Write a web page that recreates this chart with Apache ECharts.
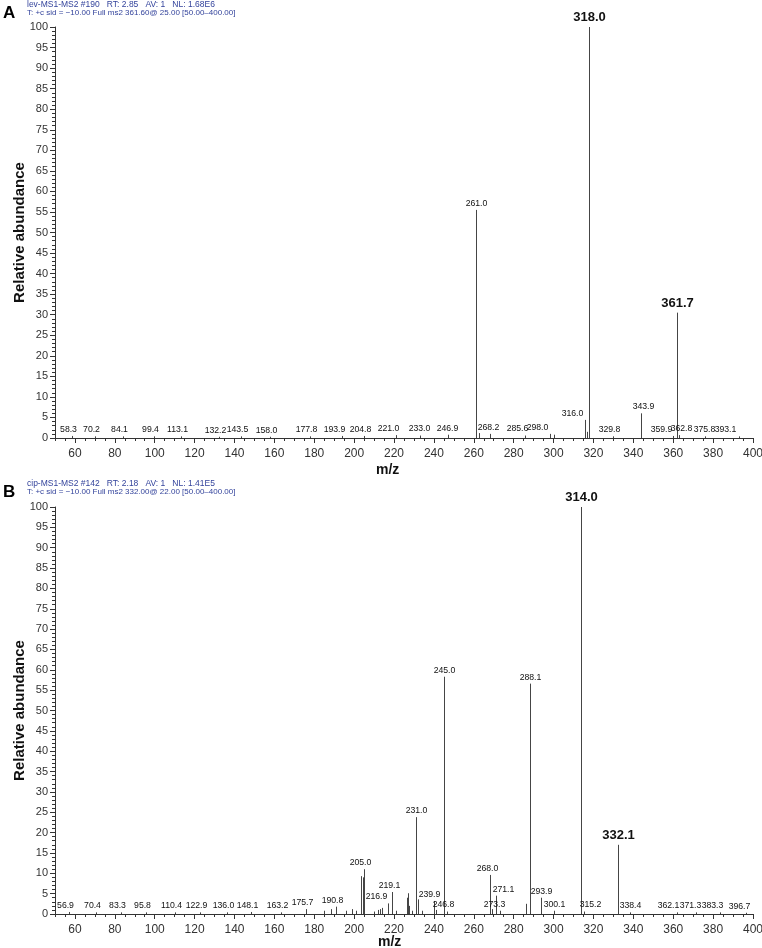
<!DOCTYPE html>
<html>
<head>
<meta charset="utf-8">
<script src="https://cdn.jsdelivr.net/npm/echarts@6/dist/echarts.min.js"></script>
<style>
html,body{margin:0;padding:0;background:#fff}
#chart{width:762px;height:948px}
</style>
</head>
<body>
<div id="chart"></div>
<script>
// tick labels of the m/z axis
var xTicks = [60, 80, 100, 120, 140, 160, 180, 200, 220, 240, 260, 280, 300, 320, 340, 360, 380, 400];

// panel A (levofloxacin) : [m/z, relative abundance]
var peaksA = [
    [58.3, 0.5], [70.2, 0.4], [84.1, 0.4], [99.4, 0.4], [113.1, 0.4], [132.2, 0.3],
    [143.5, 0.4], [158.0, 0.3], [177.8, 0.4], [193.9, 0.5], [204.8, 0.5], [221.0, 0.7],
    [233.0, 0.6], [246.9, 0.8], [261.0, 55.5], [262.4, 1.2], [268.2, 1.0], [285.6, 0.6],
    [298.0, 1.0], [300.3, 0.8], [316.0, 4.4], [317.0, 1.5], [318.0, 100], [329.8, 0.4],
    [343.9, 6.0], [359.9, 0.5], [361.7, 30.5], [362.8, 0.7], [375.8, 0.4], [393.1, 0.4]
];
var labelsA = [58.3, 70.2, 84.1, 99.4, 113.1, 132.2, 143.5, 158.0, 177.8, 193.9, 204.8, 221.0,
    233.0, 246.9, 261.0, 268.2, 285.6, 298.0, 316.0, 318.0, 329.8, 343.9, 359.9, 361.7,
    362.8, 375.8, 393.1];
var boldA = [318.0, 361.7];

// panel B (ciprofloxacin)
var peaksB = [
    [56.9, 0.5], [70.4, 0.4], [83.3, 0.4], [95.8, 0.4], [110.4, 0.4], [122.9, 0.4],
    [136.0, 0.4], [148.1, 0.5], [163.2, 0.4], [175.7, 1.2], [185.0, 0.8], [188.2, 1.2],
    [190.8, 1.8], [196.0, 0.8], [199.1, 1.2], [201.0, 0.8], [203.2, 9.3], [204.2, 9.0],
    [205.0, 11.0], [210.0, 0.6], [212.0, 1.0], [213.0, 1.2], [214.0, 1.5], [216.9, 2.6],
    [219.1, 5.4], [221.0, 0.8], [226.3, 4.0], [226.8, 5.1], [227.6, 2.0], [229.0, 0.8],
    [231.0, 23.8], [232.0, 3.6], [234.0, 0.8], [239.9, 3.2], [241.0, 1.0], [245.0, 58.3],
    [246.8, 0.6], [268.0, 9.6], [269.2, 1.2], [271.1, 4.5], [273.3, 0.8], [286.0, 2.5],
    [288.1, 56.6], [293.9, 4.0], [300.1, 0.8], [314.0, 100], [315.2, 0.6], [332.1, 17.0],
    [338.4, 0.4], [362.1, 0.4], [371.3, 0.4], [383.3, 0.4], [396.7, 0.3]
];
var labelsB = [56.9, 70.4, 83.3, 95.8, 110.4, 122.9, 136.0, 148.1, 163.2, 175.7, 190.8, 205.0,
    216.9, 219.1, 231.0, 239.9, 245.0, 246.8, 268.0, 271.1, 273.3, 288.1, 293.9, 300.1,
    314.0, 315.2, 332.1, 338.4, 362.1, 371.3, 383.3, 396.7];
var boldB = [314.0, 332.1];

var FONT = '"Liberation Sans", Arial, sans-serif';

// 标注左右微调(像素), 避免重叠
var nudgeA = {'359.9': -8, '362.8': 6, '375.8': 3, '393.1': -10, '285.6': -4, '298.0': -9,
    '268.2': 2, '246.9': 3, '233.0': 3, '221.0': -4, '193.9': -4, '316.0': -13, '343.9': 2};
var nudgeB = {'216.9': -12, '239.9': -5, '315.2': 10, '362.1': -5, '371.3': -2, '383.3': -4,
    '396.7': -3, '273.3': -2, '300.1': 4, '338.4': 4, '271.1': 7, '268.0': -3, '205.0': -4,
    '219.1': -3};

function buildData(peaks, labels, bolds) {
    return peaks.map(function (p) {
        return [p[0], p[1], labels.indexOf(p[0]) >= 0 ? 1 : 0, bolds.indexOf(p[0]) >= 0 ? 1 : 0];
    });
}

//一根谱线 + 标注
function makeRender(nudge) {
    return function (params, api) {
        var mz = api.value(0);
        var base = api.coord([mz, 0]);
        var top = api.coord([mz, api.value(1)]);
        var x = Math.round(base[0]) + 0.5;
        var children = [{
            type: 'line',
            shape: {x1: x, y1: base[1], x2: x, y2: top[1]},
            style: {stroke: '#454545', lineWidth: 1}
        }];
        if (api.value(2)) {
            var bold = api.value(3);
            var txt = mz.toFixed(1);
            var dx = nudge[txt] || 0;
            if (!bold && api.value(1) < 2) dx -= 4;
            children.push({
                type: 'text',
                style: {
                    text: txt,
                    x: x + dx,
                    y: top[1] - (bold ? 3 : 2),
                    align: 'center',
                    verticalAlign: 'bottom',
                    font: (bold ? 'bold 13px ' : '8.7px ') + FONT,
                    fill: '#111'
                }
            });
        }
        return {type: 'group', children: children};
    };
}

function majorX(g) {
    return {
        type: 'value', gridIndex: g, position: 'bottom', min: 50, max: 400,
        axisLine: {lineStyle: {color: '#333'}},
        axisTick: {customValues: xTicks, length: 5, lineStyle: {color: '#333'}},
        axisLabel: {customValues: xTicks, fontSize: 12, color: '#333', margin: 10, fontFamily: FONT},
        splitLine: {show: false}
    };
}
function minorX(g) {
    return {
        type: 'value', gridIndex: g, position: 'bottom', min: 50, max: 400, interval: 5,
        axisLine: {show: false},
        axisTick: {length: 3, lineStyle: {color: '#333'}},
        axisLabel: {show: false},
        splitLine: {show: false}
    };
}
function yAxis(g) {
    return {
        type: 'value', gridIndex: g, min: 0, max: 100, interval: 5,
        name: 'Relative abundance', nameLocation: 'middle', nameGap: 28, nameMoveOverlap: false,
        nameTextStyle: {fontSize: 15, fontWeight: 'bold', color: '#111', fontFamily: FONT},
        axisLine: {show: true, lineStyle: {color: '#333'}},
        axisTick: {show: true, length: 5, lineStyle: {color: '#333'}},
        minorTick: {show: true, splitNumber: 5, length: 3, lineStyle: {color: '#333'}},
        axisLabel: {fontSize: 11, color: '#333', margin: 7, fontFamily: FONT},
        splitLine: {show: false}
    };
}

function header(letter, line1, line2, y) {
    return [
        {type: 'text', left: 3, top: y + 1, style: {text: letter, font: 'bold 17px ' + FONT, fill: '#000'}},
        {type: 'text', left: 27, top: y - 4, style: {text: line1, font: '8.5px ' + FONT, fill: '#34449c'}},
        {type: 'text', left: 27, top: y + 5, style: {text: line2, font: '8px ' + FONT, fill: '#34449c'}}
    ];
}

var chart = echarts.init(document.getElementById('chart'));

var option = {
    animation: false,
    backgroundColor: '#fff',
    grid: [
        {left: 55, right: 9, top: 27, height: 411, outerBoundsMode: 'none'},
        {left: 55, right: 9, top: 507, height: 407, outerBoundsMode: 'none'}
    ],
    xAxis: [majorX(0), minorX(0), majorX(1), minorX(1)],
    yAxis: [yAxis(0), yAxis(1)],
    graphic: header('A', 'lev-MS1-MS2 #190   RT: 2.85   AV: 1   NL: 1.68E6',
        'T: +c sid = \u221210.00 Full ms2 361.60@ 25.00 [50.00\u2013400.00]', 4)
        .concat(header('B', 'cip-MS1-MS2 #142   RT: 2.18   AV: 1   NL: 1.41E5',
            'T: +c sid = \u221210.00 Full ms2 332.00@ 22.00 [50.00\u2013400.00]', 483))
        .concat([
            {type: 'text', left: 376, top: 463, style: {text: 'm/z', font: 'bold 14px ' + FONT, fill: '#111'}},
            {type: 'text', left: 378, top: 935, style: {text: 'm/z', font: 'bold 14px ' + FONT, fill: '#111'}}
        ]),
    series: [
        {
            type: 'custom', xAxisIndex: 0, yAxisIndex: 0, clip: false,
            renderItem: makeRender(nudgeA), encode: {x: 0, y: 1},
            data: buildData(peaksA, labelsA, boldA)
        },
        {
            type: 'custom', xAxisIndex: 2, yAxisIndex: 1, clip: false,
            renderItem: makeRender(nudgeB), encode: {x: 0, y: 1},
            data: buildData(peaksB, labelsB, boldB)
        }
    ]
};
chart.setOption(option);
</script>
</body>
</html>
